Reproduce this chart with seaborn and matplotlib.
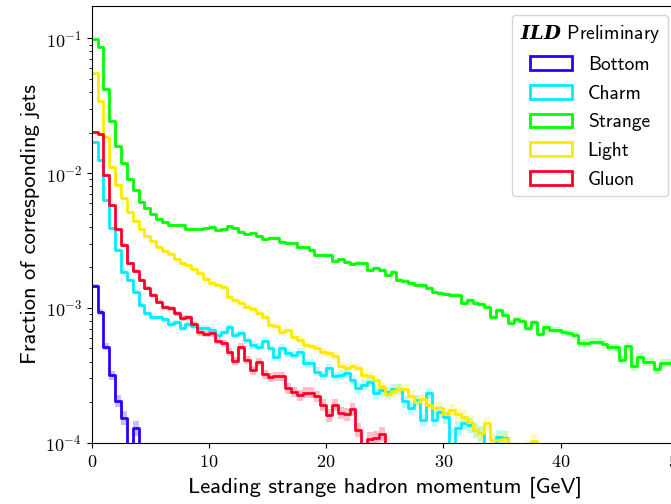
import numpy as np
import pandas as pd
import matplotlib
matplotlib.use("Agg")
import matplotlib.pyplot as plt
from matplotlib.patches import Patch
from matplotlib.font_manager import FontProperties
import seaborn as sns

# ---- histogram contents: fraction of jets per 0.5 GeV bin, 0 to 50 GeV ----
bin_edges = [0.5 * i for i in range(101)]

bottom = [0.00146, 0.00093, 0.000515, 0.000317, 0.000205, 0.000153, 0.0, 0.000128, 0.0, 0.0] + [0.0] * 90

charm = [
    0.0171, 0.0125, 0.00633, 0.0039, 0.00269, 0.00186, 0.00161, 0.00132, 0.00105, 0.00091,
    0.00086, 0.00085, 0.00082, 0.00076, 0.00078, 0.00071, 0.00076, 0.00074, 0.00071, 0.00071,
    0.000685, 0.000629, 0.000664, 0.000719, 0.000629, 0.000653, 0.000578, 0.000531, 0.000515, 0.000571,
    0.0005, 0.000435, 0.000508, 0.000465, 0.000446, 0.000472, 0.000388, 0.000388, 0.000337, 0.000317,
    0.000356, 0.00031, 0.000317, 0.000327, 0.000291, 0.000253, 0.000268, 0.000283, 0.000233, 0.000247,
    0.000239, 0.000249, 0.000249, 0.000202, 0.00018, 0.000207, 0.000147, 0.000233, 0.000147, 0.00017,
    0.000155, 0.0, 0.000128, 0.000141, 0.000135, 0.000124, 0.000117, 0.0, 0.0, 0.00011,
    0.000108, 0.0, 0.0, 0.0, 0.0, 0.0, 0.0, 0.0, 0.0, 0.0,
] + [0.0] * 20

strange = [
    0.099, 0.086, 0.0424, 0.0245, 0.0159, 0.0118, 0.0091, 0.00746, 0.00615, 0.00552,
    0.00496, 0.00457, 0.00434, 0.00412, 0.0041, 0.00412, 0.00387, 0.00387, 0.00385, 0.0039,
    0.0040, 0.0038, 0.00383, 0.00405, 0.0039, 0.00368, 0.00354, 0.00357, 0.00341, 0.00323,
    0.00332, 0.00332, 0.0031, 0.00305, 0.00302, 0.00282, 0.00282, 0.00269, 0.00247, 0.00247,
    0.00247, 0.00224, 0.00229, 0.0022, 0.00211, 0.00217, 0.00214, 0.00191, 0.00197, 0.00191,
    0.00176, 0.00185, 0.0016, 0.00158, 0.00154, 0.00149, 0.00147, 0.00141, 0.00132, 0.00128,
    0.00127, 0.00125, 0.00124, 0.00109, 0.00114, 0.00108, 0.00107, 0.00102, 0.00085, 0.00096,
    0.00089, 0.00077, 0.00082, 0.0008, 0.00071, 0.00078, 0.00064, 0.00072, 0.00069, 0.00069,
    0.00066, 0.00065, 0.00063, 0.00055, 0.00055, 0.00056, 0.00056, 0.00054, 0.00051, 0.00051,
    0.00041, 0.00052, 0.00037, 0.00043, 0.0004, 0.0004, 0.00035, 0.00039, 0.00039, 0.00034,
]

light = [
    0.0557, 0.0345, 0.0187, 0.0112, 0.00818, 0.00652, 0.00518, 0.00444, 0.00383, 0.00342,
    0.00312, 0.00285, 0.00264, 0.00251, 0.00229, 0.00214, 0.00207, 0.00195, 0.00183, 0.00165,
    0.00152, 0.00148, 0.00142, 0.00121, 0.00114, 0.00109, 0.00102, 0.00098, 0.00092, 0.00086,
    0.00075, 0.00073, 0.00066, 0.00069, 0.00061, 0.00058, 0.00053, 0.00052, 0.0005, 0.00047,
    0.00046, 0.00044, 0.00037, 0.00036, 0.00037, 0.00036, 0.00032, 0.00031, 0.00029, 0.00026,
    0.00023, 0.00024, 0.00025, 0.00025, 0.00022, 0.0002, 0.00021, 0.00019, 0.00018, 0.00018,
    0.000164, 0.000176, 0.000164, 0.000156, 0.000143, 0.000124, 0.000117, 0.000139, 0.000104, 0.000104,
    0.000107, 0.00009, 0.00008, 0.00007, 0.00009, 0.000102, 0.00006, 0.00005, 0.0, 0.0,
] + [0.0] * 20

gluon = [
    0.0203, 0.0195, 0.0097, 0.00581, 0.00383, 0.00293, 0.00214, 0.00189, 0.00161, 0.0014,
    0.00125, 0.00111, 0.00101, 0.00099, 0.00091, 0.00084, 0.00085, 0.00076, 0.00066, 0.00064,
    0.000646, 0.000571, 0.000547, 0.000472, 0.000405, 0.000515, 0.00041, 0.000346, 0.0004, 0.000323,
    0.000305, 0.00031, 0.00031, 0.000253, 0.000239, 0.000226, 0.000235, 0.000235, 0.00022, 0.00019,
    0.00016, 0.000191, 0.000167, 0.000163, 0.000177, 0.000125, 0.0, 0.000106, 0.000108, 0.000116,
] + [0.0] * 50

flavours = ["Bottom", "Charm", "Strange", "Light", "Gluon"]
fractions = [bottom, charm, strange, light, gluon]
# approximate jet count per flavour, used for the statistical band
n_jets = 5.0e5

cmap = plt.get_cmap("gist_rainbow")
colours = [cmap(v) for v in (0.8, 0.6, 0.4, 0.2, 0.0)]

edges = np.asarray(bin_edges)
centres = 0.5 * (edges[:-1] + edges[1:])
df = pd.concat(
    [pd.DataFrame({"momentum": centres, "fraction": np.asarray(f, float), "flavour": name})
     for name, f in zip(flavours, fractions)],
    ignore_index=True,
)

# ---- style ----
plt.rcParams["mathtext.fontset"] = "cm"
plt.rcParams["mathtext.bf"] = "DejaVu Serif:italic:bold"
plt.rcParams["axes.formatter.use_mathtext"] = True
plt.rcParams["font.family"] = ["cmss10", "DejaVu Sans"]
plt.rcParams["axes.unicode_minus"] = True

fig = plt.figure(figsize=(6.71, 5.04), dpi=100)
ax = fig.add_axes([0.1367, 0.1218, 0.8733, 0.8669])
ax.set_yscale("log")

for name, col in zip(flavours, colours):
    sub = df[df["flavour"] == name]
    sns.histplot(data=sub, x="momentum", weights="fraction", bins=bin_edges,
                 element="step", fill=False, color=col, linewidth=2.0, ax=ax)
    vals = sub["fraction"].to_numpy()
    err = np.sqrt(vals / n_jets)
    lo = np.append(vals - err, (vals - err)[-1])
    hi = np.append(vals + err, (vals + err)[-1])
    lo = np.where(lo > 0, lo, 1e-9)
    ax.fill_between(edges, lo, hi, step="post", color=col, alpha=0.25, linewidth=0)

ax.set_xlim(0, 50)
ax.set_ylim(1e-4, 0.175)
ax.set_xticks([0, 10, 20, 30, 40, 50])
ax.tick_params(axis="both", which="major", labelsize=13)
ax.tick_params(axis="x", which="major", pad=4.5)
for lab in ax.get_xticklabels() + ax.get_yticklabels():
    lab.set_family("cmr10")

ax.set_xlabel("Leading strange hadron momentum [GeV]", fontsize=16.2)
ax.set_ylabel("Fraction of corresponding jets", fontsize=16.2)

handles = [Patch(facecolor="none", edgecolor=c, linewidth=2.0, label=n)
           for n, c in zip(flavours, colours)]
leg_font = FontProperties(family=["cmss10", "DejaVu Sans"], size=14)
leg = ax.legend(handles=handles, loc="upper right", prop=leg_font,
                title=r"$\mathbf{ILD}$ Preliminary", title_fontproperties=leg_font,
                handlelength=2.15, handletextpad=0.8, labelspacing=0.55)
leg.get_title().set_math_fontfamily("custom")

fig.savefig("out.png", dpi=100)
